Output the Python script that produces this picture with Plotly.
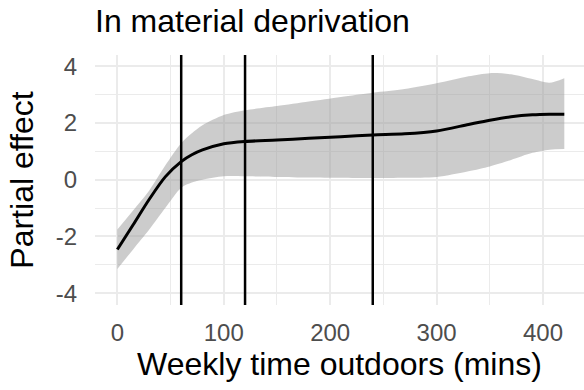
import plotly.graph_objects as go

# Data
minutes = [0, 15, 30, 45, 60, 70, 80, 100, 120, 150, 180, 210, 240, 270, 300, 330, 350, 370, 390, 406, 420]
effect = [-2.46, -1.58, -0.69, 0.10, 0.64, 0.88, 1.05, 1.27, 1.35, 1.40, 1.46, 1.52, 1.58, 1.62, 1.72, 1.95, 2.10, 2.22, 2.29, 2.31, 2.31]
upper = [-1.76, -1.08, -0.38, 0.50, 1.29, 1.64, 1.92, 2.28, 2.45, 2.6, 2.76, 2.92, 3.07, 3.2, 3.4, 3.65, 3.76, 3.72, 3.55, 3.42, 3.58]
lower = [-3.15, -2.45, -1.76, -1.0, -0.28, -0.1, 0.0, 0.12, 0.12, 0.1, 0.08, 0.07, 0.06, 0.07, 0.1, 0.3, 0.47, 0.7, 0.95, 1.06, 1.08]
vlines = [60, 120, 240]
x_ticks = [0, 100, 200, 300, 400]
y_ticks = [-4, -2, 0, 2, 4]

FONT = "Liberation Sans, Arial, sans-serif"
GRID = "#EBEBEB"

fig = go.Figure()
fig.add_trace(go.Scatter(x=minutes, y=lower, mode="lines", line=dict(width=0, shape="spline", smoothing=0.8),
                         hoverinfo="skip", showlegend=False))
fig.add_trace(go.Scatter(x=minutes, y=upper, mode="lines", line=dict(width=0, shape="spline", smoothing=0.8),
                         fill="tonexty", fillcolor="rgba(153,153,153,0.5)", hoverinfo="skip", showlegend=False))
fig.add_trace(go.Scatter(x=minutes, y=effect, mode="lines",
                         line=dict(color="black", width=3, shape="spline", smoothing=0.8),
                         showlegend=False))

for v in vlines:
    fig.add_shape(type="line", x0=v, x1=v, xref="x", y0=0, y1=1, yref="y domain",
                  line=dict(color="black", width=2.5), layer="above")

fig.update_layout(
    width=584, height=390,
    margin=dict(l=95, r=0, t=55, b=85),
    paper_bgcolor="white", plot_bgcolor="white",
    font=dict(family=FONT),
    title=dict(text="In material deprivation", x=0, xref="paper", xanchor="left",
               y=1 - 21 / 390, yref="container", yanchor="middle",
               font=dict(size=32, color="black", family=FONT)),
    xaxis=dict(range=[-21, 438.5], tickvals=x_ticks, ticktext=[str(t) for t in x_ticks],
               showgrid=True, gridcolor=GRID, gridwidth=2, zeroline=False,
               minor=dict(dtick=50, tick0=0, showgrid=True, gridcolor=GRID, gridwidth=1),
               ticks="outside", ticklen=6, tickcolor="rgba(0,0,0,0)",
               tickfont=dict(size=24, color="#4D4D4D"),
               title=dict(text="Weekly time outdoors (mins)", font=dict(size=32, color="black"), standoff=4)),
    yaxis=dict(range=[-4.42, 4.4], tickvals=y_ticks, ticktext=[str(t) for t in y_ticks],
               showgrid=True, gridcolor=GRID, gridwidth=2, zeroline=False,
               minor=dict(dtick=1, tick0=0, showgrid=True, gridcolor=GRID, gridwidth=1),
               ticks="outside", ticklen=12, tickcolor="rgba(0,0,0,0)",
               tickfont=dict(size=24, color="#4D4D4D"),
               title=dict(text="Partial effect", font=dict(size=32, color="black"), standoff=12)),
)

fig.write_html("out.html")
